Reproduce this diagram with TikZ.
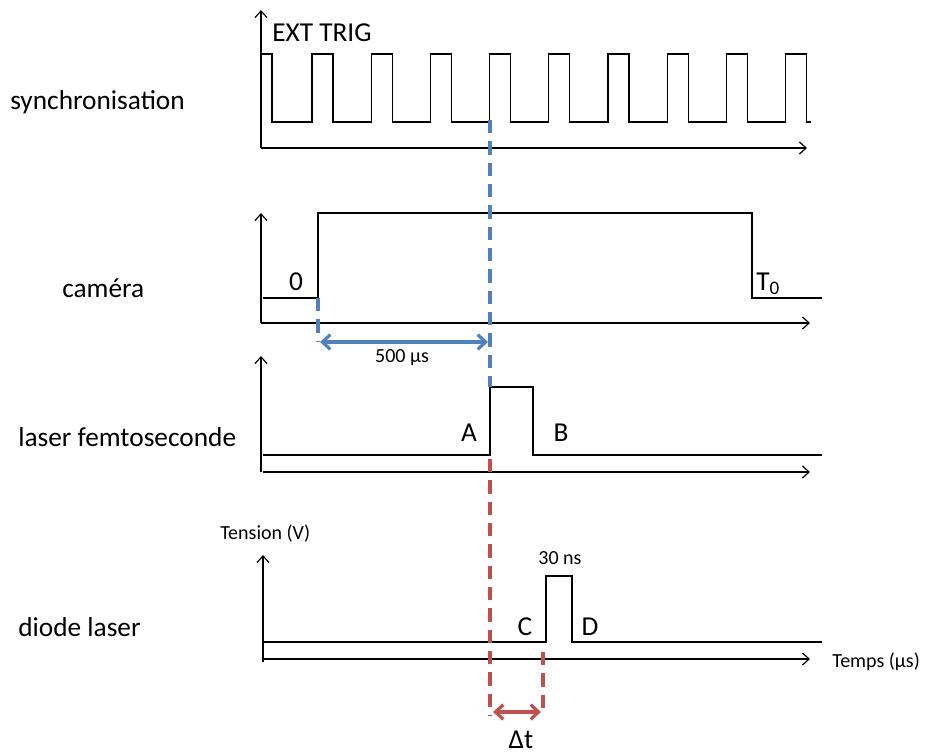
\documentclass[tikz,border=0pt]{standalone}
\usepackage{fontspec}
\setmainfont{Carlito}
\usetikzlibrary{arrows.meta}
\definecolor{myblue}{HTML}{4F81BD}
\definecolor{myred}{HTML}{C0504D}
\begin{document}
\begin{tikzpicture}[x=0.75pt,y=-0.75pt,
  axis/.style={line width=0.9pt,-{Straight Barb[length=5pt,width=9pt]}},
  sig/.style={line width=1pt},
  big/.style={font=\fontsize{20.5}{24}\selectfont, inner sep=0pt},
  small/.style={font=\fontsize{15}{18}\selectfont, inner sep=0pt},
  bdash/.style={draw=myblue, line width=2.3pt, dash pattern=on 10pt off 6pt},
  rdash/.style={draw=myred, line width=2.3pt, dash pattern=on 10pt off 6pt},
  barrow/.style={draw=myblue, line width=2.4pt, {Straight Barb[length=6pt,width=11pt]}-{Straight Barb[length=6pt,width=11pt]}},
  rarrow/.style={draw=myred, line width=2.4pt, {Straight Barb[length=6pt,width=11pt]}-{Straight Barb[length=6pt,width=11pt]}}]
\useasboundingbox (0,0) rectangle (925,754);

% ---------- synchronisation ----------
\draw[axis] (261,148) -- (261,10);
\draw[axis] (261,148) -- (807,148);
\draw[sig] (261,54) -- (272,54) -- (272,122)
  \foreach \k in {0,...,8} { -- ({312+59.2*\k},122) -- ({312+59.2*\k},54) -- ({333+59.2*\k},54) -- ({333+59.2*\k},122)}
  -- (811,122);
\node[big,anchor=west] (ext) at (272,33) {EXT TRIG};
\node[big,anchor=west] (sync) at (10,102) {synchronisation};

% ---------- camera ----------
\draw[axis] (261,323) -- (261,213);
\draw[axis] (261,323) -- (810,323);
\draw[sig] (263,298) -- (318,298) -- (318,213) -- (752,213) -- (752,298) -- (822,298);
\node[big,anchor=west] (cam) at (62,288) {caméra};
\node[big] (zero) at (296,282) {0};
\node[big,anchor=west] (tzero) at (756,284) {T$_{\mathrm{0}}$};

% ---------- laser femtoseconde ----------
\draw[axis] (261,472) -- (261,356);
\draw[axis] (263,472) -- (810,472);
\draw[sig] (263,455) -- (490,455) -- (490,387) -- (533,387) -- (533,455) -- (822,455);
\node[big,anchor=west] (femto) at (18,437) {laser femtoseconde};
\node[big] (A) at (469,433) {A};
\node[big] (B) at (561,433) {B};

% ---------- diode laser ----------
\draw[axis] (263,662) -- (263,555);
\draw[axis] (263,659) -- (810,659);
\draw[sig] (263,642) -- (546,642) -- (546,576) -- (572,576) -- (572,642) -- (822,642);
\node[small,anchor=west] (tension) at (220,534) {Tension (V)};
\node[small] (ns) at (560,558) {30 ns};
\node[big,anchor=west] (diode) at (18,627) {diode laser};
\node[big] (C) at (525,627) {C};
\node[big] (D) at (590,627) {D};
\node[small,anchor=west] (temps) at (832,662) {Temps (µs)};

% ---------- timing marks ----------
\coordinate (b1) at (490,120);
\coordinate (b2) at (490,387);
\coordinate (b3) at (318,298);
\coordinate (b4) at (318,342);
\path[bdash] (b1) -- (b2);
\path[bdash] (b3) -- (b4);
\coordinate (ba) at (320,342);
\coordinate (bb) at (488,342);
\path[barrow] (ba) -- (bb);
\node[small] (us) at (402,358) {500 µs};

\coordinate (r1) at (490,459);
\coordinate (r2) at (490,716);
\coordinate (r3) at (543,652);
\coordinate (r4) at (543,716);
\path[rdash] (r1) -- (r2);
\path[rdash] (r3) -- (r4);
\coordinate (ra) at (493,712);
\coordinate (rb) at (541,712);
\path[rarrow] (ra) -- (rb);
\node[big] (dt) at (521,740) {Δt};
\end{tikzpicture}
\end{document}
